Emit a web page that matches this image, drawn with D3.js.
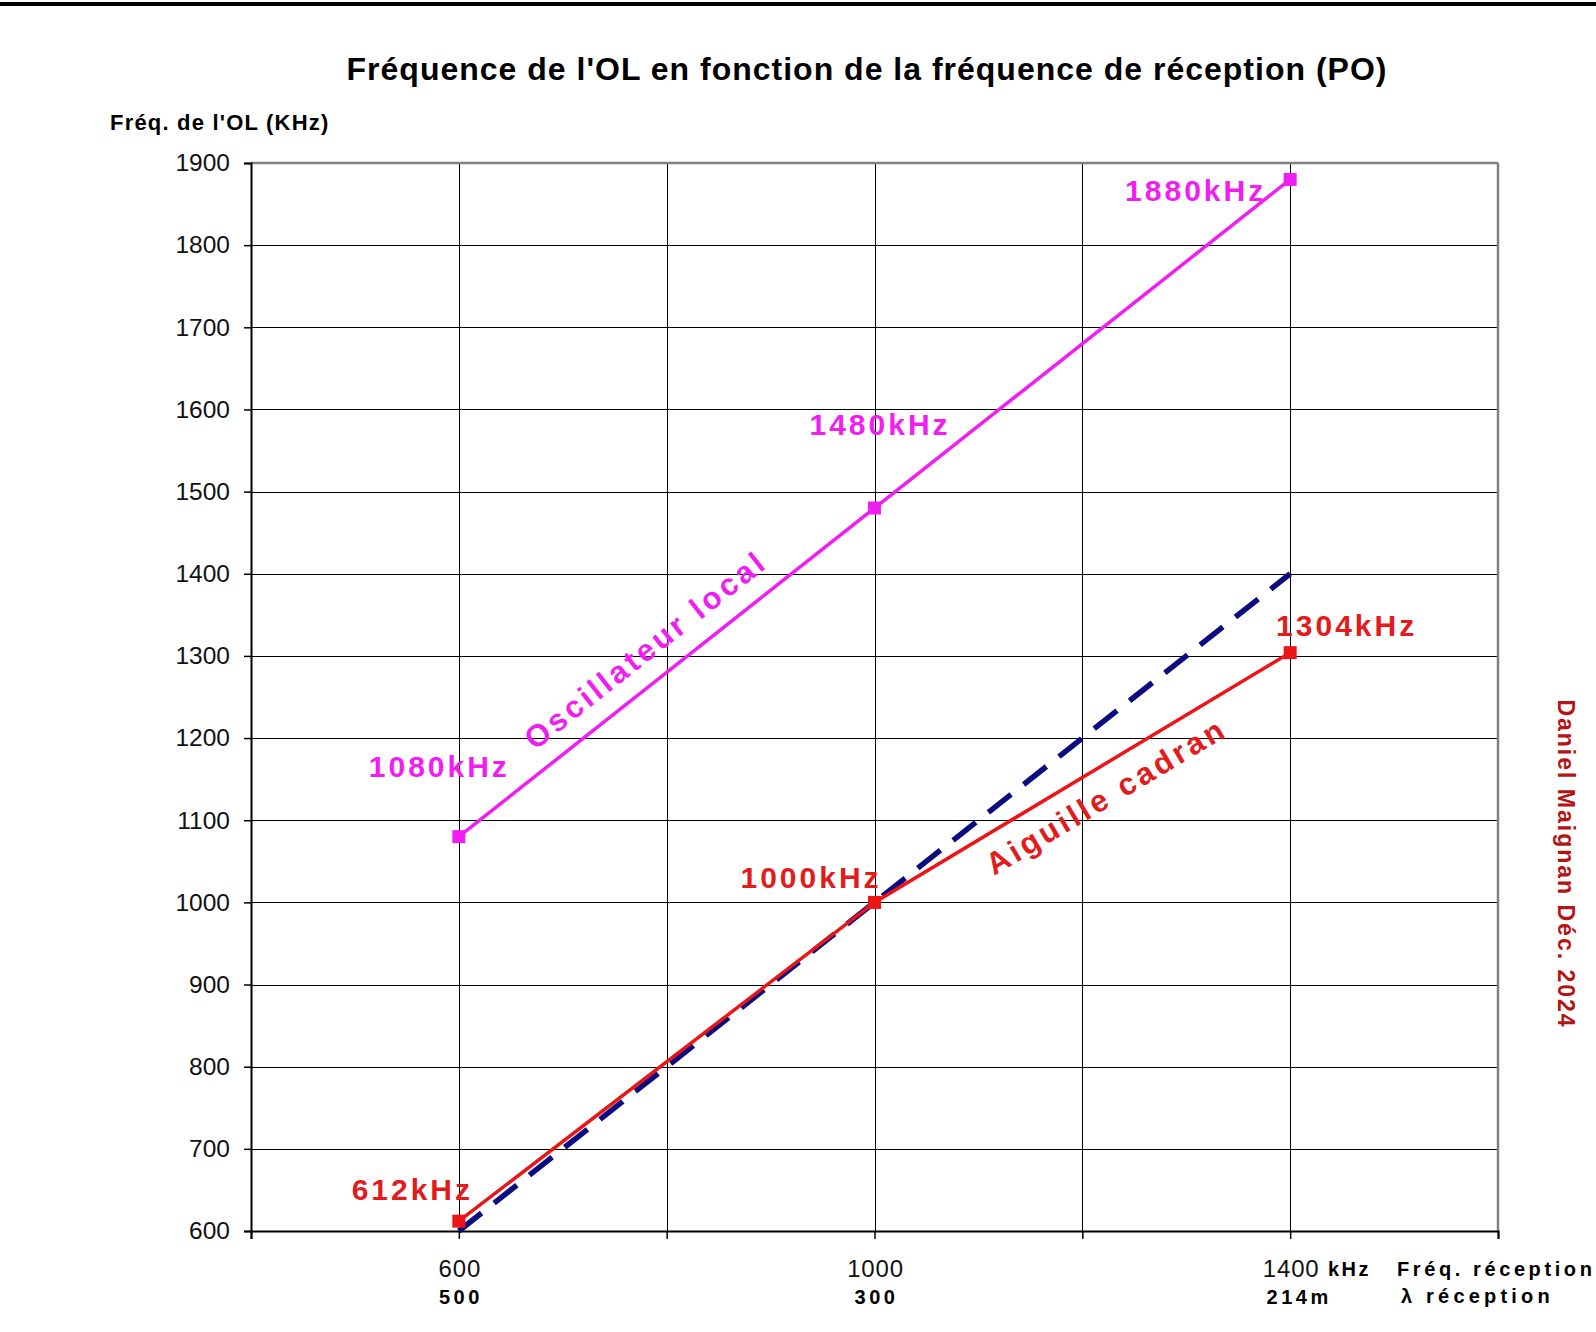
<!DOCTYPE html>
<html>
<head>
<meta charset="utf-8">
<script src="https://cdn.jsdelivr.net/npm/d3@7"></script>
<style>
  html, body { margin: 0; padding: 0; background: #fff; }
  svg { display: block; font-family: "Liberation Sans", Arial, sans-serif; }
</style>
</head>
<body>
<svg id="chart" width="1596" height="1332"></svg>
<script>
// ---------------- data ----------------
const recepFreq = [600, 1000, 1400];            // Fréq. réception (kHz)
const olFreq = [1080, 1480, 1880];              // Oscillateur local (kHz)
const dialFreq = [612, 1000, 1304];             // Aiguille cadran (kHz)
const idealRecep = [600, 1400];                 // dashed reference line (x)
const idealOL = [600, 1400];                    // dashed reference line (y)
const yTickValues = [600, 700, 800, 900, 1000, 1100, 1200, 1300, 1400, 1500, 1600, 1700, 1800, 1900];
const xGridValues = [400, 600, 800, 1000, 1200, 1400, 1600];
const xLabelValues = [600, 1000, 1400];
const xTickLabels = ["600", "1000", "1400"];
const wavelengthLabels = ["500", "300", "214m"];
const olPointLabels = ["1080kHz", "1480kHz", "1880kHz"];
const dialPointLabels = ["612kHz", "1000kHz", "1304kHz"];
const titleText = "Fréquence de l'OL en fonction de la fréquence de réception (PO)";
const yTitleText = "Fréq. de l'OL (KHz)";
const signatureText = "Daniel Maignan Déc. 2024";

// ---------------- layout ----------------
const plot = { left: 251, right: 1498, top: 163, bottom: 1231 };
const x = d3.scaleLinear().domain([400, 1600]).range([plot.left, plot.right]);
const y = d3.scaleLinear().domain([600, 1900]).range([plot.bottom, plot.top]);

const C = {
  magenta: "#f01ef0",
  red: "#ec1515",
  redLabel: "#e21c1c",
  navy: "#0c0c80",
  sig: "#b41414"
};

const svg = d3.select("#chart");

// top black bar
svg.append("rect").attr("x", 0).attr("y", 2).attr("width", 1596).attr("height", 4).attr("fill", "#000");

// title
svg.append("text")
  .attr("x", 867).attr("y", 80)
  .attr("text-anchor", "middle")
  .attr("font-size", 32).attr("font-weight", "bold").attr("letter-spacing", 1)
  .text(titleText);

// y title
svg.append("text")
  .attr("x", 110).attr("y", 130)
  .attr("font-size", 22).attr("font-weight", "bold").attr("letter-spacing", 1.2)
  .text(yTitleText);

// horizontal gridlines
svg.append("g").selectAll("line").data(yTickValues.filter(v => v !== 600 && v !== 1900)).join("line")
  .attr("x1", plot.left).attr("x2", plot.right)
  .attr("y1", d => Math.round(y(d)) + 0.5).attr("y2", d => Math.round(y(d)) + 0.5)
  .attr("stroke", "#000").attr("stroke-width", 1);

// vertical gridlines
svg.append("g").selectAll("line").data(xGridValues.filter(v => v !== 400 && v !== 1600)).join("line")
  .attr("x1", d => Math.round(x(d)) + 0.5).attr("x2", d => Math.round(x(d)) + 0.5)
  .attr("y1", plot.top).attr("y2", plot.bottom)
  .attr("stroke", "#000").attr("stroke-width", 1);

// top & right borders (gray)
svg.append("line").attr("x1", plot.left).attr("x2", plot.right).attr("y1", plot.top).attr("y2", plot.top)
  .attr("stroke", "#808080").attr("stroke-width", 2.5);
svg.append("line").attr("x1", plot.right).attr("x2", plot.right).attr("y1", plot.top).attr("y2", plot.bottom)
  .attr("stroke", "#808080").attr("stroke-width", 2.5);

// y axis
const yAxis = d3.axisLeft(y).tickValues(yTickValues).tickSize(7).tickPadding(14).tickFormat(d3.format("d"));
const gy = svg.append("g").attr("transform", `translate(${plot.left},0)`).call(yAxis);
gy.select(".domain").attr("stroke", "#000").attr("stroke-width", 2);
gy.selectAll(".tick line").attr("stroke", "#000").attr("stroke-width", 1.5);
gy.selectAll(".tick text").attr("font-size", 24.5).attr("font-family", "Liberation Sans, Arial, sans-serif").attr("fill", "#111");

// x axis (ticks only)
const xAxis = d3.axisBottom(x).tickValues(xGridValues).tickSize(8).tickFormat("");
const gx = svg.append("g").attr("transform", `translate(0,${plot.bottom})`).call(xAxis);
gx.select(".domain").attr("stroke", "#000").attr("stroke-width", 2);
gx.selectAll(".tick line").attr("stroke", "#000").attr("stroke-width", 1.5);

// x labels
svg.append("g").selectAll("text").data(xLabelValues).join("text")
  .attr("x", d => x(d) + 1).attr("y", 1277)
  .attr("text-anchor", "middle")
  .attr("font-size", 24).attr("letter-spacing", 0.8).attr("fill", "#111")
  .text((d, i) => xTickLabels[i]);
svg.append("g").selectAll("text").data(xLabelValues).join("text")
  .attr("x", (d, i) => x(d) + (i === 2 ? 9 : 2)).attr("y", 1304)
  .attr("text-anchor", "middle")
  .attr("font-size", 20).attr("font-weight", "bold").attr("letter-spacing", 3.5)
  .text((d, i) => wavelengthLabels[i]);

svg.append("text").attr("x", 1328).attr("y", 1276)
  .attr("font-size", 20).attr("font-weight", "bold").attr("letter-spacing", 2.5).text("kHz");
svg.append("text").attr("x", 1397).attr("y", 1276)
  .attr("font-size", 20).attr("font-weight", "bold").attr("letter-spacing", 3.6).text("Fréq. réception");
svg.append("text").attr("x", 1401).attr("y", 1303)
  .attr("font-size", 20).attr("font-weight", "bold").attr("letter-spacing", 4.2).text("λ réception");

// series lines
const lineGen = d3.line().x(d => x(d[0])).y(d => y(d[1]));

svg.append("path")
  .datum(idealRecep.map((v, i) => [v, idealOL[i]]))
  .attr("d", lineGen).attr("fill", "none")
  .attr("stroke", C.navy).attr("stroke-width", 5.5).attr("stroke-dasharray", "29,16");

svg.append("path")
  .datum(recepFreq.map((v, i) => [v, dialFreq[i]]))
  .attr("d", lineGen).attr("fill", "none")
  .attr("stroke", C.red).attr("stroke-width", 3.5);

svg.append("path")
  .datum(recepFreq.map((v, i) => [v, olFreq[i]]))
  .attr("d", lineGen).attr("fill", "none")
  .attr("stroke", C.magenta).attr("stroke-width", 3.5);

// markers
const ms = 13;
svg.append("g").selectAll("rect").data(recepFreq.map((v, i) => [v, olFreq[i]])).join("rect")
  .attr("x", d => x(d[0]) - ms / 2).attr("y", d => y(d[1]) - ms / 2)
  .attr("width", ms).attr("height", ms).attr("fill", C.magenta);
svg.append("g").selectAll("rect").data(recepFreq.map((v, i) => [v, dialFreq[i]])).join("rect")
  .attr("x", d => x(d[0]) - ms / 2).attr("y", d => y(d[1]) - ms / 2)
  .attr("width", ms).attr("height", ms).attr("fill", C.red);

// point labels (offsets in px relative to the point)
const olLabelOffsets = [[-21, -70], [4, -84], [-96, 11]];
const dialLabelOffsets = [[-48, -32], [-65, -25], [55, -27]];
function pointLabels(xs, ys, labels, offs, color) {
  svg.append("g").selectAll("text").data(xs).join("text")
    .attr("x", (d, i) => x(d) + offs[i][0] + 1.5)
    .attr("y", (d, i) => y(ys[i]) + offs[i][1])
    .attr("text-anchor", "middle").attr("dominant-baseline", "central")
    .attr("font-size", 30).attr("font-weight", "bold").attr("letter-spacing", 3)
    .attr("fill", color)
    .text((d, i) => labels[i]);
}
pointLabels(recepFreq, olFreq, olPointLabels, olLabelOffsets, C.magenta);
pointLabels(recepFreq, dialFreq, dialPointLabels, dialLabelOffsets, C.redLabel);

// rotated series labels: placed along the segment (x0,y0)-(x1,y1) at data x = atX,
// shifted perpendicular by `perp` px (negative = above the line)
function seriesLabel(text, x0, y0, x1, y1, atX, perp, color) {
  const px0 = x(x0), py0 = y(y0), px1 = x(x1), py1 = y(y1);
  const ang = Math.atan2(py1 - py0, px1 - px0);
  const t = (atX - x0) / (x1 - x0);
  const cx = px0 + t * (px1 - px0), cy = py0 + t * (py1 - py0);
  const fx = cx - Math.sin(ang) * perp;
  const fy = cy + Math.cos(ang) * perp;
  svg.append("text")
    .attr("transform", `translate(${fx},${fy}) rotate(${ang * 180 / Math.PI})`)
    .attr("text-anchor", "middle")
    .attr("font-size", 31).attr("font-weight", "bold").attr("letter-spacing", 3.5)
    .attr("fill", color)
    .text(text);
}
seriesLabel("Oscillateur local", recepFreq[0], olFreq[0], recepFreq[1], olFreq[1], 798, -20, C.magenta);
seriesLabel("Aiguille cadran", recepFreq[1], dialFreq[1], recepFreq[2], dialFreq[2], 1209, 39, C.redLabel);

// signature
svg.append("text")
  .attr("transform", "translate(1558,864) rotate(90)")
  .attr("text-anchor", "middle")
  .attr("font-size", 23).attr("font-weight", "bold").attr("letter-spacing", 2)
  .attr("fill", C.sig)
  .text(signatureText);
</script>
</body>
</html>
